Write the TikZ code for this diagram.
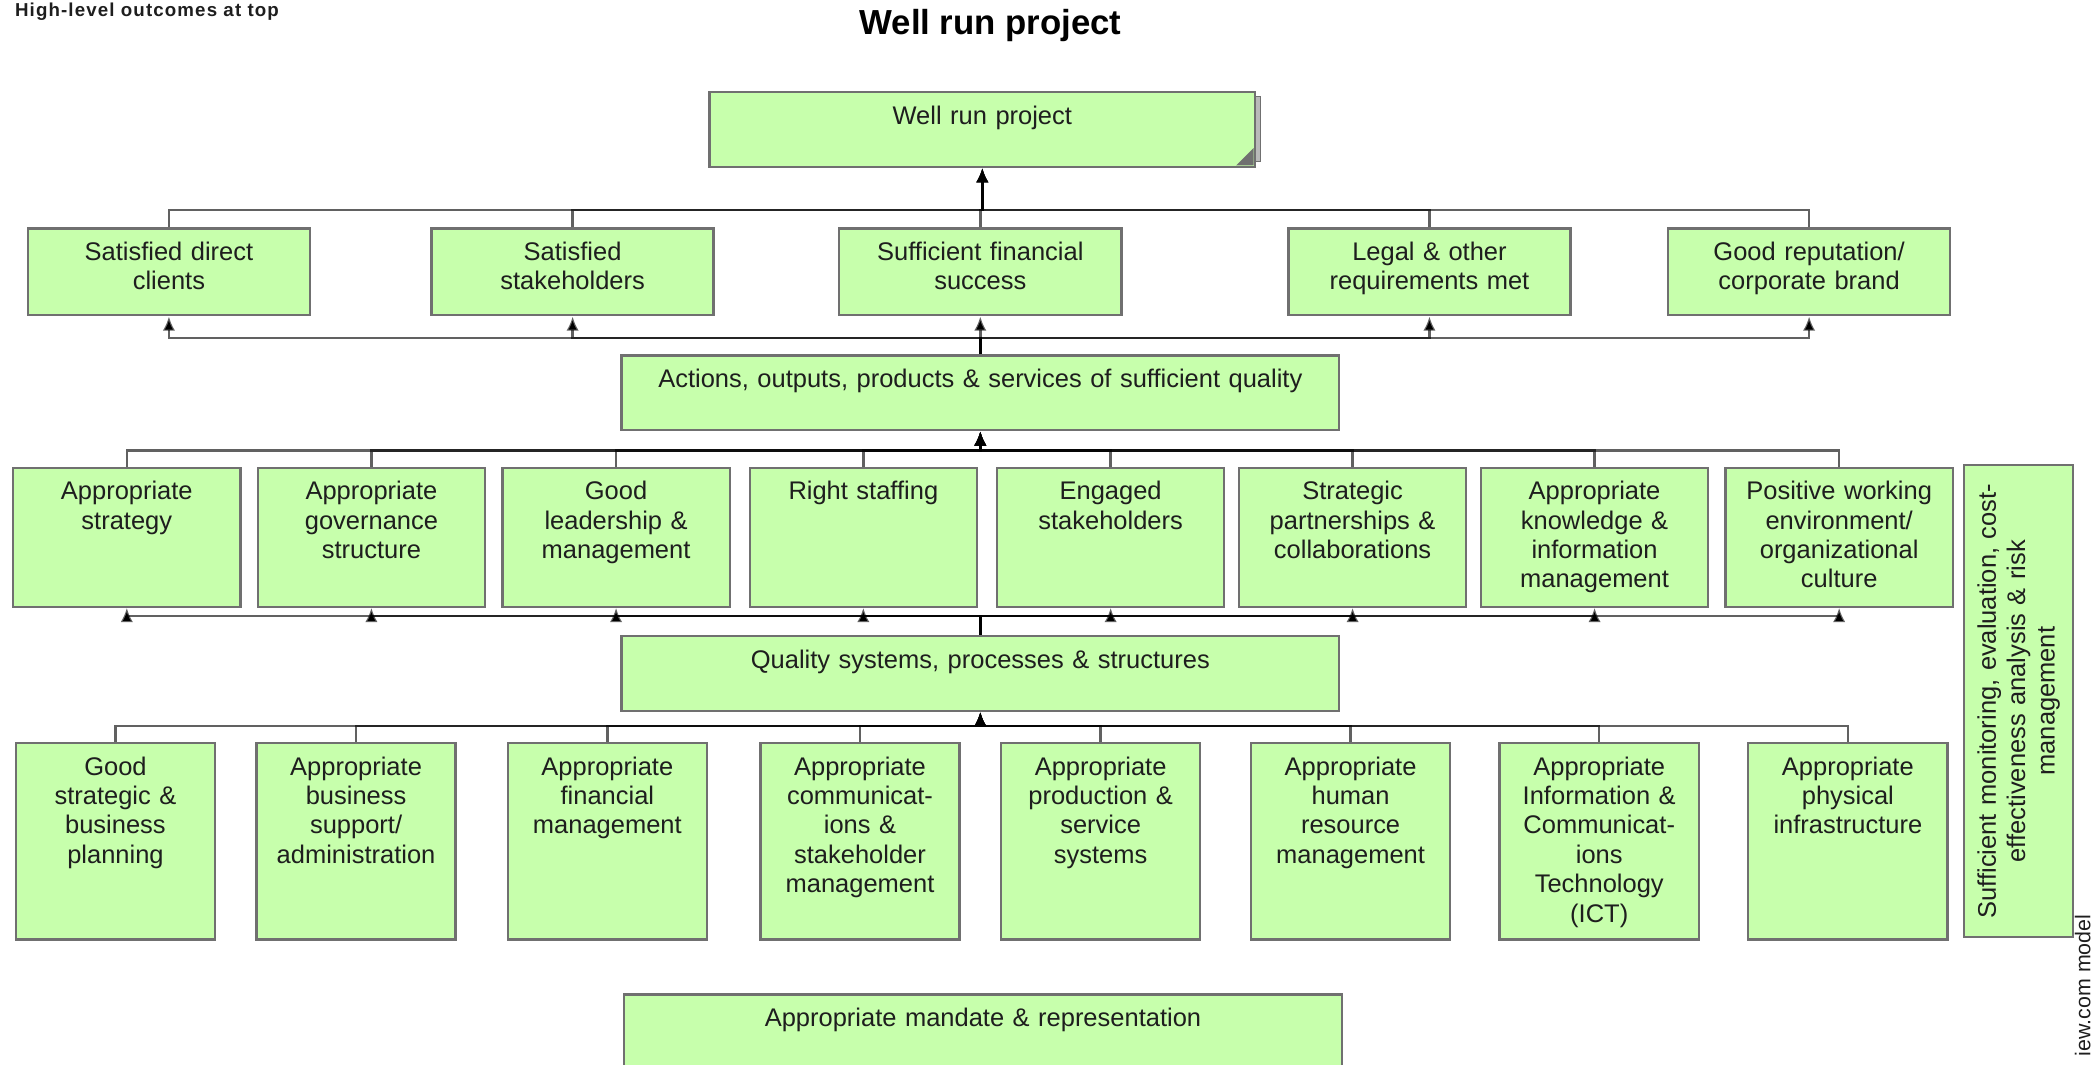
\documentclass[tikz,border=0pt]{standalone}
\usepackage{fontspec}
\setmainfont{Liberation Sans}
\usetikzlibrary{arrows.meta}

\definecolor{boxfill}{RGB}{199,255,172}
\definecolor{boxline}{RGB}{112,112,112}
\definecolor{boxtext}{RGB}{30,30,30}

\begin{document}
\begin{tikzpicture}[x=0.75pt,y=0.75pt,yscale=-1,xscale=1,
  box/.style={draw=boxline,fill=boxfill,line width=1.3pt,anchor=north west,
    align=center,inner xsep=3pt,inner ysep=0pt,text height=18pt,
    text=boxtext,font=\fontsize{14.3}{16.5}\selectfont},
  outbox/.style={box,text width=152.25pt,text depth=30.75pt},
  midbox/.style={box,text width=121.5pt,text depth=60pt},
  lowbox/.style={box,text width=105.75pt,text depth=92.25pt},
  widebox/.style={box,text width=396.75pt,text depth=24pt},
  link/.style={draw=black,draw opacity=0.62,line width=1.35pt},
  up/.style={link,-{Latex[length=8pt,width=7pt,fill=black]}}]
\path[use as bounding box] (0,0) rectangle (1568,796);

% Text Node
\node[anchor=west,inner sep=0pt,text=boxtext,font=\bfseries\fontsize{10.5}{12}\selectfont\addfontfeatures{LetterSpace=6}] (sub) at (11,9) {High-level outcomes at top};
% Text Node
\node[inner sep=0pt,font=\bfseries\fontsize{19.5}{23}\selectfont] (ttl) at (741,19) {Well run project};

%Shape: Rectangle (shadow behind the top box)
\filldraw[draw=boxline,fill=gray!55,line width=0.8pt] (540,72) rectangle (943,121);
%Shape: Rectangle
\node[box,text width=300pt,text depth=24pt] (wrp) at (530,68) {Well run project};
\fill[boxline] ([shift={(-2,-2)}]wrp.south east) -- ++(0,-13) -- ++(-13,13) -- cycle;

%Shape: Rectangle (outcomes)
\node[outbox] (sdc) at (20,170) {Satisfied direct\\clients};
\node[outbox] (sst) at (322,170) {Satisfied\\stakeholders};
\node[outbox] (sfs) at (627,170) {Sufficient financial\\success};
\node[outbox] (leg) at (963,170) {Legal \& other\\requirements met};
\node[outbox] (rep) at (1247,170) {Good reputation/\\corporate brand};

%Shape: Rectangle
\node[widebox] (act) at (464,265) {Actions, outputs, products \& services of sufficient quality};

%Shape: Rectangle (middle row)
\node[midbox] (str) at (9,349) {Appropriate\\strategy};
\node[midbox] (gov) at (192,349) {Appropriate\\governance\\structure};
\node[midbox] (lead) at (375,349) {Good\\leadership \&\\management};
\node[midbox] (staff) at (560,349) {Right staffing};
\node[midbox] (eng) at (745,349) {Engaged\\stakeholders};
\node[midbox] (part) at (926,349) {Strategic\\partnerships \&\\collaborations};
\node[midbox] (know) at (1107,349) {Appropriate\\knowledge \&\\information\\management};
\node[midbox] (env) at (1290,349) {Positive working\\environment/\\organizational\\culture};

%Shape: Rectangle
\node[widebox] (qual) at (464,475) {Quality systems, processes \& structures};

%Shape: Rectangle (bottom row)
\node[lowbox] (plan) at (11,555) {Good\\strategic \&\\business\\planning};
\node[lowbox] (supp) at (191,555) {Appropriate\\business\\support/\\administration};
\node[lowbox] (fin) at (379,555) {Appropriate\\financial\\management};
\node[lowbox] (comm) at (568,555) {Appropriate\\communicat-\\ions \&\\stakeholder\\management};
\node[lowbox] (prod) at (748,555) {Appropriate\\production \&\\service\\systems};
\node[lowbox] (hr) at (935,555) {Appropriate\\human\\resource\\management};
\node[lowbox] (ict) at (1121,555) {Appropriate\\Information \&\\Communicat-\\ions\\Technology\\(ICT)};
\node[lowbox] (phys) at (1307,555) {Appropriate\\physical\\infrastructure};

%Shape: Rectangle
\node[widebox] (mand) at (466,743) {Appropriate mandate \& representation};

%Shape: Rectangle (side box)
\node[box,anchor=center,rotate=90,text width=258.75pt,text depth=43.5pt] (mon) at (1510,524.5) {Sufficient monitoring, evaluation, cost-\\effectiveness analysis \& risk\\management};

% Text Node
\node[anchor=east,rotate=90,inner sep=0pt,text=boxtext,font=\fontsize{12}{14}\selectfont] (web) at (1558,684) {iew.com model};

%Straight Lines
\draw[up] (sdc.north) -- ++(0,-13) -| (wrp.south);
\draw[up] (sst.north) -- ++(0,-13) -| (wrp.south);
\draw[up] (sfs.north) -- ++(0,-13) -| (wrp.south);
\draw[up] (leg.north) -- ++(0,-13) -| (wrp.south);
\draw[up] (rep.north) -- ++(0,-13) -| (wrp.south);

%Straight Lines
\draw[up] (act.north) -- ++(0,-12) -| (sdc.south);
\draw[up] (act.north) -- ++(0,-12) -| (sst.south);
\draw[up] (act.north) -- ++(0,-12) -| (sfs.south);
\draw[up] (act.north) -- ++(0,-12) -| (leg.south);
\draw[up] (act.north) -- ++(0,-12) -| (rep.south);

%Straight Lines
\draw[up] (str.north) -- ++(0,-12) -| (act.south);
\draw[up] (gov.north) -- ++(0,-12) -| (act.south);
\draw[up] (lead.north) -- ++(0,-12) -| (act.south);
\draw[up] (staff.north) -- ++(0,-12) -| (act.south);
\draw[up] (eng.north) -- ++(0,-12) -| (act.south);
\draw[up] (part.north) -- ++(0,-12) -| (act.south);
\draw[up] (know.north) -- ++(0,-12) -| (act.south);
\draw[up] (env.north) -- ++(0,-12) -| (act.south);

%Straight Lines
\draw[up] (qual.north) -- ++(0,-14) -| (str.south);
\draw[up] (qual.north) -- ++(0,-14) -| (gov.south);
\draw[up] (qual.north) -- ++(0,-14) -| (lead.south);
\draw[up] (qual.north) -- ++(0,-14) -| (staff.south);
\draw[up] (qual.north) -- ++(0,-14) -| (eng.south);
\draw[up] (qual.north) -- ++(0,-14) -| (part.south);
\draw[up] (qual.north) -- ++(0,-14) -| (know.south);
\draw[up] (qual.north) -- ++(0,-14) -| (env.south);

%Straight Lines
\draw[up] (plan.north) -- ++(0,-12) -| (qual.south);
\draw[up] (supp.north) -- ++(0,-12) -| (qual.south);
\draw[up] (fin.north) -- ++(0,-12) -| (qual.south);
\draw[up] (comm.north) -- ++(0,-12) -| (qual.south);
\draw[up] (prod.north) -- ++(0,-12) -| (qual.south);
\draw[up] (hr.north) -- ++(0,-12) -| (qual.south);
\draw[up] (ict.north) -- ++(0,-12) -| (qual.south);
\draw[up] (phys.north) -- ++(0,-12) -| (qual.south);

\end{tikzpicture}
\end{document}
